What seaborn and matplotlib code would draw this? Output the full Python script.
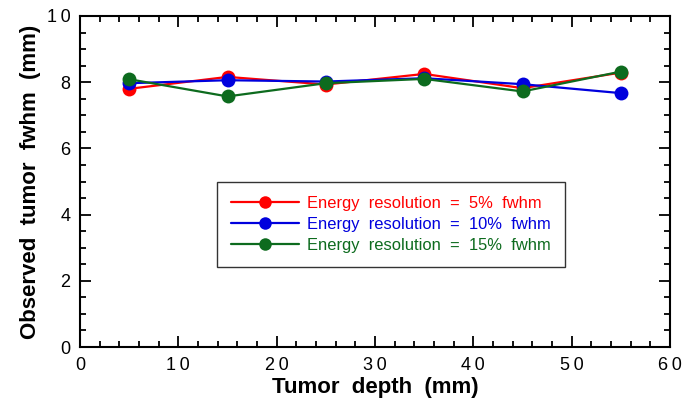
import numpy as np
import pandas as pd
import seaborn as sns
from matplotlib import pyplot as plt
from matplotlib.ticker import MultipleLocator, FuncFormatter

depth = [5, 15, 25, 35, 45, 55]
res5 = [7.80, 8.16, 7.93, 8.25, 7.82, 8.29]
res10 = [7.97, 8.06, 8.02, 8.12, 7.94, 7.67]
res15 = [8.09, 7.57, 7.97, 8.10, 7.72, 8.32]
labels = ['Energy  resolution  =  5%  fwhm',
          'Energy  resolution  =  10%  fwhm',
          'Energy  resolution  =  15%  fwhm']
colors = ['#ff0000', '#0000dd', '#0d6b1e']

df = pd.DataFrame({'depth': depth * 3,
                   'fwhm': res5 + res10 + res15,
                   'series': [labels[0]] * 6 + [labels[1]] * 6 + [labels[2]] * 6})

sns.set_style('ticks')
plt.rcParams['font.family'] = ['Liberation Sans', 'DejaVu Sans']

fig = plt.figure(figsize=(6.91, 4.09), dpi=100)
ax = fig.add_axes([80 / 691, 62 / 409, 590 / 691, 331 / 409])
sns.lineplot(data=df, x='depth', y='fwhm', hue='series', palette=colors,
             marker='o', markersize=10, markeredgewidth=0, linewidth=1.6,
             ax=ax)

# spaced digits like the original
spaced = FuncFormatter(lambda v, p: '\u2009'.join(str(int(round(v)))))
ax.set_xlim(0, 60)
ax.set_ylim(0, 10)
ax.xaxis.set_major_locator(MultipleLocator(10))
ax.xaxis.set_minor_locator(MultipleLocator(2))
ax.yaxis.set_major_locator(MultipleLocator(2))
ax.yaxis.set_minor_locator(MultipleLocator(0.5))
ax.xaxis.set_major_formatter(spaced)
ax.yaxis.set_major_formatter(spaced)
ax.tick_params(which='both', direction='in', top=True, right=True,
               width=1.3, labelsize=13, colors='black')
ax.tick_params(which='major', length=8, pad=7)
ax.tick_params(which='minor', length=4)
for s in ax.spines.values():
    s.set_linewidth(1.5)
    s.set_color('black')

ax.set_xlabel('Tumor  depth  (mm)', fontsize=16, fontweight='bold',
              labelpad=2, color='black')
ax.set_ylabel('Observed  tumor  fwhm  (mm)', fontsize=16, fontweight='bold',
              labelpad=4, color='black')

leg = ax.legend(loc='upper left', bbox_to_anchor=(0.232, 0.4985), fontsize=11.9,
                frameon=True, fancybox=False, edgecolor='black',
                handlelength=4.1, handletextpad=0.5, borderpad=0.85,
                labelspacing=0.36, borderaxespad=0, markerscale=0.9)
leg.get_frame().set_linewidth(1.0)
for t, c in zip(leg.get_texts(), colors):
    t.set_color(c)

fig.savefig('out.png', dpi=100)
